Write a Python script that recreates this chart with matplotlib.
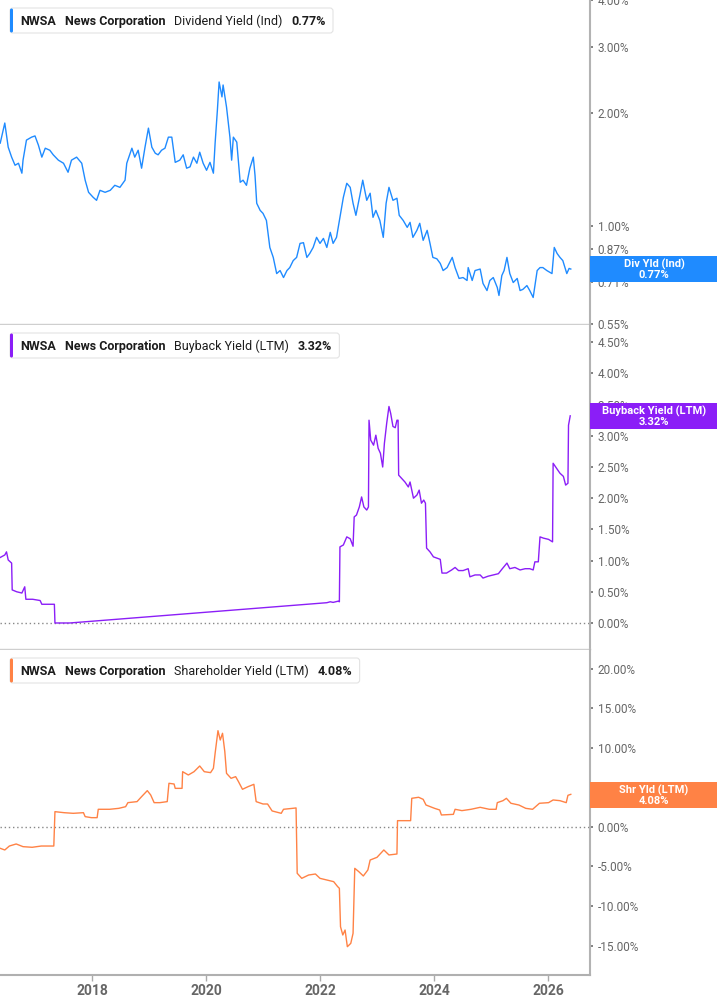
import matplotlib
matplotlib.use("Agg")
import matplotlib.pyplot as plt
from matplotlib.patches import FancyBboxPatch, Rectangle
from matplotlib.transforms import IdentityTransform

# ---- data ----
div_years = [2016.39, 2016.47, 2016.53, 2016.59, 2016.65, 2016.71, 2016.77, 2016.79, 2016.85, 2016.94,
             2017.00, 2017.06, 2017.12, 2017.18, 2017.26, 2017.32, 2017.41, 2017.50, 2017.58, 2017.64,
             2017.73, 2017.82, 2017.88, 2017.94, 2018.02, 2018.08, 2018.14, 2018.23, 2018.32, 2018.40,
             2018.49, 2018.58, 2018.61, 2018.70, 2018.75, 2018.81, 2018.87, 2018.93, 2018.99, 2019.05,
             2019.11, 2019.16, 2019.22, 2019.28, 2019.34, 2019.40, 2019.46, 2019.54, 2019.60, 2019.66,
             2019.72, 2019.78, 2019.84, 2019.89, 2019.95, 2020.01, 2020.07, 2020.13, 2020.16, 2020.20,
             2020.23, 2020.28, 2020.30, 2020.36, 2020.42, 2020.45, 2020.48, 2020.54, 2020.60, 2020.65,
             2020.71, 2020.77, 2020.83, 2020.86, 2020.89, 2020.95, 2021.00, 2021.06, 2021.12, 2021.18,
             2021.24, 2021.30, 2021.36, 2021.42, 2021.47, 2021.53, 2021.59, 2021.65, 2021.71, 2021.77,
             2021.82, 2021.88, 2021.94, 2022.00, 2022.06, 2022.12, 2022.18, 2022.23, 2022.29, 2022.35,
             2022.41, 2022.47, 2022.53, 2022.58, 2022.63, 2022.70, 2022.75, 2022.82, 2022.88, 2022.93,
             2022.98, 2023.05, 2023.11, 2023.16, 2023.21, 2023.28, 2023.35, 2023.39, 2023.46, 2023.53,
             2023.58, 2023.63, 2023.70, 2023.75, 2023.81, 2023.88, 2023.93, 2023.98, 2024.05, 2024.11,
             2024.16, 2024.23, 2024.32, 2024.37, 2024.44, 2024.51, 2024.58, 2024.60, 2024.67, 2024.72,
             2024.81, 2024.86, 2024.93, 2024.98, 2025.04, 2025.11, 2025.14, 2025.19, 2025.23, 2025.28,
             2025.33, 2025.39, 2025.46, 2025.51, 2025.56, 2025.63, 2025.68, 2025.74, 2025.81, 2025.86,
             2025.91, 2025.98, 2026.07, 2026.11, 2026.16, 2026.21, 2026.26, 2026.33, 2026.37, 2026.40]
div_vals = [1.665, 1.883, 1.624, 1.528, 1.454, 1.472, 1.385, 1.500, 1.696, 1.727,
            1.740, 1.644, 1.528, 1.614, 1.594, 1.550, 1.500, 1.472, 1.393, 1.500,
            1.528, 1.472, 1.327, 1.232, 1.195, 1.173, 1.247, 1.232, 1.247, 1.286,
            1.270, 1.327, 1.472, 1.614, 1.528, 1.594, 1.428, 1.624, 1.825, 1.624,
            1.565, 1.550, 1.594, 1.614, 1.727, 1.727, 1.480, 1.500, 1.550, 1.428,
            1.440, 1.528, 1.472, 1.575, 1.472, 1.410, 1.480, 1.385, 1.665, 2.039,
            2.421, 2.210, 2.377, 2.077, 1.727, 1.500, 1.727, 1.675, 1.310, 1.327,
            1.286, 1.428, 1.528, 1.367, 1.152, 1.103, 1.083, 1.037, 0.879, 0.827,
            0.749, 0.763, 0.731, 0.763, 0.777, 0.811, 0.827, 0.901, 0.905, 0.827,
            0.847, 0.879, 0.935, 0.901, 0.929, 0.879, 0.964, 0.901, 0.935, 1.057,
            1.195, 1.302, 1.270, 1.152, 1.070, 1.210, 1.327, 1.173, 1.225, 1.057,
            1.103, 1.037, 0.935, 1.152, 1.270, 1.173, 1.188, 1.070, 1.037, 0.994,
            1.025, 0.935, 0.976, 1.019, 0.918, 0.976, 0.901, 0.827, 0.820, 0.797,
            0.763, 0.777, 0.827, 0.777, 0.727, 0.731, 0.718, 0.777, 0.718, 0.763,
            0.770, 0.705, 0.675, 0.718, 0.731, 0.688, 0.655, 0.740, 0.763, 0.827,
            0.749, 0.709, 0.727, 0.675, 0.680, 0.696, 0.675, 0.647, 0.763, 0.777,
            0.777, 0.763, 0.749, 0.879, 0.847, 0.827, 0.811, 0.749, 0.773, 0.770]

bb_years = [2016.39, 2016.47, 2016.50, 2016.53, 2016.59, 2016.60, 2016.68, 2016.77, 2016.82, 2016.84,
            2016.96, 2017.09, 2017.12, 2017.34, 2017.35, 2017.61, 2022.12, 2022.18, 2022.23, 2022.32,
            2022.34, 2022.35, 2022.41, 2022.47, 2022.53, 2022.58, 2022.60, 2022.64, 2022.69, 2022.73,
            2022.77, 2022.82, 2022.85, 2022.86, 2022.89, 2022.94, 2022.98, 2023.02, 2023.06, 2023.10,
            2023.13, 2023.17, 2023.21, 2023.24, 2023.28, 2023.32, 2023.35, 2023.37, 2023.38, 2023.43,
            2023.49, 2023.55, 2023.58, 2023.64, 2023.70, 2023.74, 2023.78, 2023.82, 2023.85, 2023.87,
            2023.93, 2023.99, 2024.05, 2024.11, 2024.14, 2024.22, 2024.31, 2024.37, 2024.43, 2024.51,
            2024.60, 2024.63, 2024.72, 2024.81, 2024.86, 2024.95, 2025.04, 2025.13, 2025.19, 2025.28,
            2025.33, 2025.42, 2025.51, 2025.60, 2025.68, 2025.74, 2025.77, 2025.83, 2025.86, 2025.92,
            2026.01, 2026.08, 2026.09, 2026.15, 2026.21, 2026.27, 2026.31, 2026.35, 2026.36, 2026.39]
bb_vals = [1.05, 1.09, 1.14, 1.01, 0.96, 0.53, 0.50, 0.48, 0.58, 0.38,
           0.38, 0.36, 0.30, 0.30, 0.00, 0.00, 0.325, 0.34, 0.33, 0.35,
           0.34, 1.22, 1.25, 1.38, 1.35, 1.23, 1.70, 1.73, 1.86, 2.02,
           1.86, 1.81, 1.86, 3.25, 2.93, 2.85, 3.01, 2.80, 2.72, 2.50,
           2.88, 3.20, 3.47, 3.36, 3.15, 3.13, 3.25, 3.25, 2.37, 2.32,
           2.26, 2.18, 2.26, 2.00, 2.05, 2.13, 1.92, 1.97, 1.92, 1.20,
           1.14, 1.06, 1.04, 1.02, 0.80, 0.80, 0.85, 0.89, 0.84, 0.84,
           0.87, 0.74, 0.77, 0.77, 0.72, 0.75, 0.77, 0.79, 0.86, 0.96,
           0.87, 0.89, 0.85, 0.87, 0.87, 0.85, 0.98, 0.98, 1.38, 1.36,
           1.34, 1.30, 2.56, 2.48, 2.40, 2.35, 2.21, 2.24, 3.17, 3.32]

shr_years = [2016.39, 2016.47, 2016.55, 2016.67, 2016.79, 2016.95, 2017.11, 2017.27, 2017.33, 2017.35,
             2017.51, 2017.67, 2017.85, 2017.88, 2017.99, 2018.09, 2018.11, 2018.31, 2018.47, 2018.59,
             2018.63, 2018.79, 2018.87, 2018.97, 2019.03, 2019.09, 2019.19, 2019.32, 2019.35, 2019.44,
             2019.46, 2019.58, 2019.59, 2019.69, 2019.79, 2019.89, 2019.97, 2020.08, 2020.13, 2020.16,
             2020.21, 2020.25, 2020.29, 2020.33, 2020.36, 2020.44, 2020.52, 2020.57, 2020.64, 2020.74,
             2020.84, 2020.88, 2021.00, 2021.08, 2021.16, 2021.32, 2021.36, 2021.52, 2021.58, 2021.60,
             2021.68, 2021.80, 2021.92, 2022.00, 2022.12, 2022.24, 2022.31, 2022.34, 2022.36, 2022.40,
             2022.44, 2022.48, 2022.54, 2022.58, 2022.61, 2022.68, 2022.76, 2022.84, 2022.88, 2023.00,
             2023.12, 2023.21, 2023.35, 2023.36, 2023.59, 2023.61, 2023.73, 2023.81, 2023.86, 2024.01,
             2024.10, 2024.13, 2024.34, 2024.37, 2024.49, 2024.65, 2024.81, 2024.97, 2025.09, 2025.11,
             2025.21, 2025.27, 2025.35, 2025.49, 2025.61, 2025.73, 2025.85, 2026.01, 2026.09, 2026.21,
             2026.32, 2026.35, 2026.40]
shr_vals = [-2.70, -2.91, -2.41, -2.15, -2.49, -2.57, -2.41, -2.41, -2.41, 1.94,
            1.81, 1.73, 1.81, 1.31, 1.18, 1.18, 2.24, 2.24, 2.36, 2.57,
            3.08, 3.21, 3.84, 4.60, 4.05, 3.08, 3.08, 3.21, 5.53, 5.44,
            4.89, 4.89, 7.00, 6.58, 7.00, 7.72, 7.00, 6.88, 7.43, 9.32,
            12.19, 11.01, 11.86, 9.54, 6.79, 6.16, 6.37, 5.74, 4.77, 5.11,
            5.40, 3.21, 2.91, 2.91, 2.03, 1.73, 2.24, 2.36, 2.41, -5.86,
            -6.50, -6.08, -5.95, -6.50, -6.71, -6.92, -7.55, -7.76, -12.62, -13.67,
            -13.04, -15.15, -14.73, -13.46, -5.23, -5.65, -6.20, -5.44, -4.18, -3.84,
            -2.91, -3.54, -3.42, 0.80, 0.80, 3.63, 3.76, 3.50, 2.78, 2.36,
            2.15, 1.52, 1.60, 2.24, 2.07, 2.24, 2.49, 2.24, 2.24, 3.08,
            3.33, 3.63, 3.00, 2.78, 2.36, 2.24, 3.00, 3.08, 3.42, 3.33,
            3.08, 4.01, 4.13]

year_ticks = [2018, 2020, 2022, 2024, 2026]
div_ticks = [0.55, 0.71, 0.87, 1.00, 2.00, 3.00, 4.00]
bb_ticks = [0.0, 0.5, 1.0, 1.5, 2.0, 2.5, 3.0, 3.5, 4.0, 4.5]
shr_ticks = [-15, -10, -5, 0, 5, 10, 15, 20]

BLUE = "#1f8bff"
PURPLE = "#8b1ef7"
ORANGE = "#ff8245"

plt.rcParams['font.family'] = ['Roboto', 'DejaVu Sans']

W, H = 717, 1005
fig = plt.figure(figsize=(W / 100, H / 100), dpi=100)
PX = IdentityTransform()


def panel(top, bottom):
    ax = fig.add_axes([0, 1 - bottom / H, 590 / W, (bottom - top) / H])
    ax.set_xlim(2016.386, 2026.737)
    ax.spines[['top', 'left']].set_visible(False)
    ax.spines['right'].set_color('#b3b3b3')
    ax.spines['right'].set_linewidth(1.5)
    ax.spines['bottom'].set_color('#cfcfcf')
    ax.spines['bottom'].set_linewidth(1)
    ax.yaxis.tick_right()
    ax.tick_params(axis='y', length=2.5, width=1.3, color='#777777',
                   labelsize=8.5, labelcolor='#666666', pad=3)
    ax.tick_params(axis='x', bottom=False, labelbottom=False)
    return ax


ax1 = panel(0, 324)
ax2 = panel(325, 649)
ax3 = panel(650, 974.5)

# dividend yield (log)
ax1.plot(div_years, div_vals, color=BLUE, lw=1.0)
ax1.set_yscale('log')
ax1.set_ylim(0.55, 4.0)
ax1.minorticks_off()
ax1.set_yticks(div_ticks)
ax1.set_yticklabels([f"{v:.2f}%" for v in div_ticks])

# buyback yield
ax2.plot(bb_years, bb_vals, color=PURPLE, lw=1.0)
ax2.set_ylim(-0.417, 4.776)
ax2.set_yticks(bb_ticks)
ax2.set_yticklabels([f"{v:.2f}%" for v in bb_ticks])
ax2.axhline(0, color='#888888', lw=1, ls=(0, (1, 2)), zorder=1)

# shareholder yield
ax3.plot(shr_years, shr_vals, color=ORANGE, lw=1.0)
ax3.set_ylim(-18.67, 22.4)
ax3.set_yticks(shr_ticks)
ax3.set_yticklabels([f"{v:.2f}%" for v in shr_ticks])
ax3.axhline(0, color='#888888', lw=1, ls=(0, (1, 2)), zorder=1)
ax3.spines['bottom'].set_color('#b0b0b0')
ax3.spines['bottom'].set_linewidth(1.5)
ax3.set_xticks(year_ticks)
ax3.set_xticklabels([str(y) for y in year_ticks])
ax3.tick_params(axis='x', bottom=True, labelbottom=True, length=4, width=1,
                color='#aaaaaa', labelsize=10, labelcolor='#666666', pad=3)
for lab in ax3.get_xticklabels():
    lab.set_fontweight('bold')

renderer = fig.canvas.get_renderer()


def legend(top, label, value, color):
    yc = H - (top + 13)
    x = 20
    parts = [("NWSA", 'bold'), ("News Corporation", 'bold'), (label, 'normal'), (value, 'bold')]
    for s, w in parts:
        t = fig.text(x, yc, s, transform=PX, fontsize=9, fontweight=w, color='#1c1c1c',
                     va='center', ha='left', zorder=5)
        x = t.get_window_extent(renderer).x1 + 9
    x_end = x - 9 + 7
    box = FancyBboxPatch((10, H - (top + 25)), x_end - 10, 25, transform=PX,
                         boxstyle="round,pad=0,rounding_size=3",
                         facecolor='white', edgecolor='#e3e3e3', lw=0.8, zorder=4)
    fig.add_artist(box)
    bar = FancyBboxPatch((10, H - (top + 24.5)), 3, 24, transform=PX,
                         boxstyle="round,pad=0,rounding_size=1.5",
                         facecolor=color, edgecolor='none', zorder=4.5)
    fig.add_artist(bar)


legend(8, "Dividend Yield (Ind)", f"{div_vals[-1]:.2f}%", BLUE)
legend(333, "Buyback Yield (LTM)", f"{bb_vals[-1]:.2f}%", PURPLE)
legend(658, "Shareholder Yield (LTM)", "4.08%", ORANGE)


def value_tag(ax, value, name, text, color):
    _, yd = ax.transData.transform((2026.0, value))
    rect = Rectangle((590, yd - 12.8), W - 590, 25.6, transform=PX,
                     facecolor=color, edgecolor='none', zorder=4)
    fig.add_artist(rect)
    fig.text(654, yd - 0.5, f"{name}\n{text}", transform=PX, color='white', fontsize=8,
             fontweight='bold', ha='center', va='center', linespacing=0.95,
             multialignment='center', zorder=5)


value_tag(ax1, div_vals[-1], "Div Yld (Ind)", "0.77%", BLUE)
value_tag(ax2, bb_vals[-1], "Buyback Yield (LTM)", "3.32%", PURPLE)
value_tag(ax3, 4.08, "Shr Yld (LTM)", "4.08%", ORANGE)

fig.savefig("out.png", dpi=100)
